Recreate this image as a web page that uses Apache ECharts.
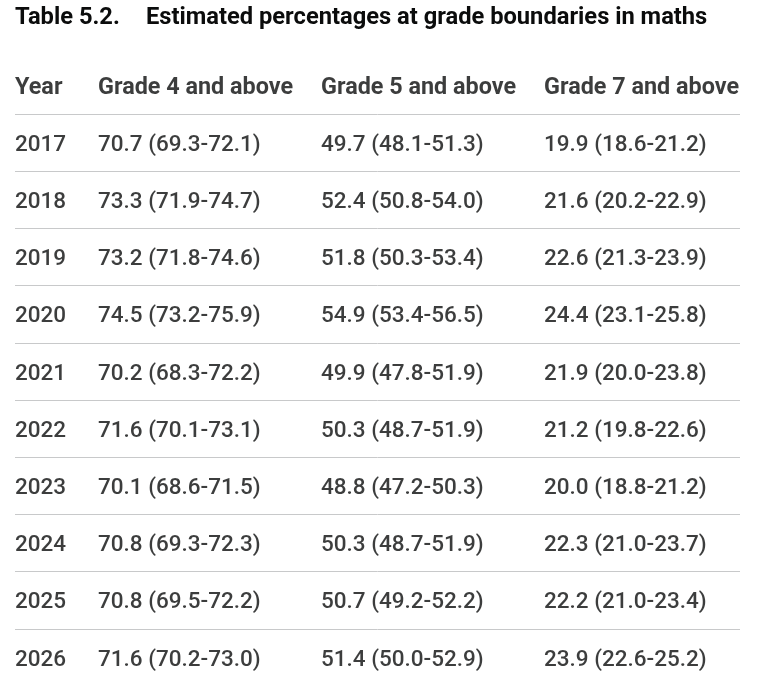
<!DOCTYPE html>
<html>
<head>
<meta charset="utf-8">
<script src="https://cdn.jsdelivr.net/npm/echarts@6/dist/echarts.min.js"></script>
<style>
html,body{margin:0;padding:0;background:#fff;}
#table{width:765px;height:678px;}
</style>
</head>
<body>
<div id="table"></div>
<script>
// 表格数据
var years = ['2017','2018','2019','2020','2021','2022','2023','2024','2025','2026'];
var headers = ['Year','Grade 4 and above','Grade 5 and above','Grade 7 and above'];

var grade4 = [70.7,73.3,73.2,74.5,70.2,71.6,70.1,70.8,70.8,71.6];
var grade4Low = [69.3,71.9,71.8,73.2,68.3,70.1,68.6,69.3,69.5,70.2];
var grade4High = [72.1,74.7,74.6,75.9,72.2,73.1,71.5,72.3,72.2,73.0];

var grade5 = [49.7,52.4,51.8,54.9,49.9,50.3,48.8,50.3,50.7,51.4];
var grade5Low = [48.1,50.8,50.3,53.4,47.8,48.7,47.2,48.7,49.2,50.0];
var grade5High = [51.3,54.0,53.4,56.5,51.9,51.9,50.3,51.9,52.2,52.9];

var grade7 = [19.9,21.6,22.6,24.4,21.9,21.2,20.0,22.3,22.2,23.9];
var grade7Low = [18.6,20.2,21.3,23.1,20.0,19.8,18.8,21.0,21.0,22.6];
var grade7High = [21.2,22.9,23.9,25.8,23.8,22.6,21.2,23.7,23.4,25.2];

// 列的起始位置（像素，布局用）
var colStart = [0,83,306,529];
var rowHeight = 57.2;
var gridTop = 56.8;

var chart = echarts.init(document.getElementById('table'));

function fmt(v,lo,hi){
	return v.toFixed(1)+' ('+lo.toFixed(1)+'-'+hi.toFixed(1)+')';
}

var textColor = '#0b0c0c';
var bodyFont = 'Roboto';

function columnSeries(col, texts, bold){
	var data = [];
	for (var i = 0; i < texts.length; i++) {
		data.push({value:[colStart[col], i + (bold ? 0.5 : 1.5)], name:texts[i]});
	}
	return {
		type:'scatter',
		symbolSize:0,
		silent:true,
		data:data,
		label:{
			show:true,
			position:'inside',
			align:'left',
			verticalAlign:'middle',
			offset:[0,2.5],
			formatter:function(p){return p.name;},
			color:textColor,
			fontFamily:bodyFont,
			fontSize:bold ? 23.4 : 22.5,
			fontWeight:bold ? 'bold' : 500
		}
	};
}

var col4 = [], col5 = [], col7 = [];
for (var i = 0; i < years.length; i++) {
	col4.push(fmt(grade4[i],grade4Low[i],grade4High[i]));
	col5.push(fmt(grade5[i],grade5Low[i],grade5High[i]));
	col7.push(fmt(grade7[i],grade7Low[i],grade7High[i]));
}

var series = [];
for (var h = 0; h < headers.length; h++) {
	series.push(columnSeries(h,[headers[h]],true));
}
series.push(columnSeries(0,years,false));
series.push(columnSeries(1,col4,false));
series.push(columnSeries(2,col5,false));
series.push(columnSeries(3,col7,false));

var titleStyle = {color:textColor,fontFamily:bodyFont,fontSize:23.7,fontWeight:'bold'};

var option = {
	backgroundColor:'#ffffff',
	animation:false,
	title:[
		{text:'Table 5.2.',left:15,top:6,padding:0,textStyle:titleStyle},
		{text:'Estimated percentages at grade boundaries in maths',left:146,top:6,padding:0,textStyle:titleStyle}
	],
	grid:{left:15,right:25,top:gridTop,bottom:0},
	xAxis:{type:'value',min:0,max:725,show:false},
	yAxis:{
		type:'value',
		inverse:true,
		min:0,
		max:(678-gridTop)/rowHeight,
		interval:1,
		axisLine:{show:false},
		axisTick:{show:false},
		axisLabel:{show:false},
		splitLine:{
			show:true,
			showMinLine:false,
			showMaxLine:false,
			lineStyle:{color:'#c8c9ca',width:1}
		}
	},
	series:series
};

chart.setOption(option,true);
window.onresize = chart.resize;
</script>
</body>
</html>
